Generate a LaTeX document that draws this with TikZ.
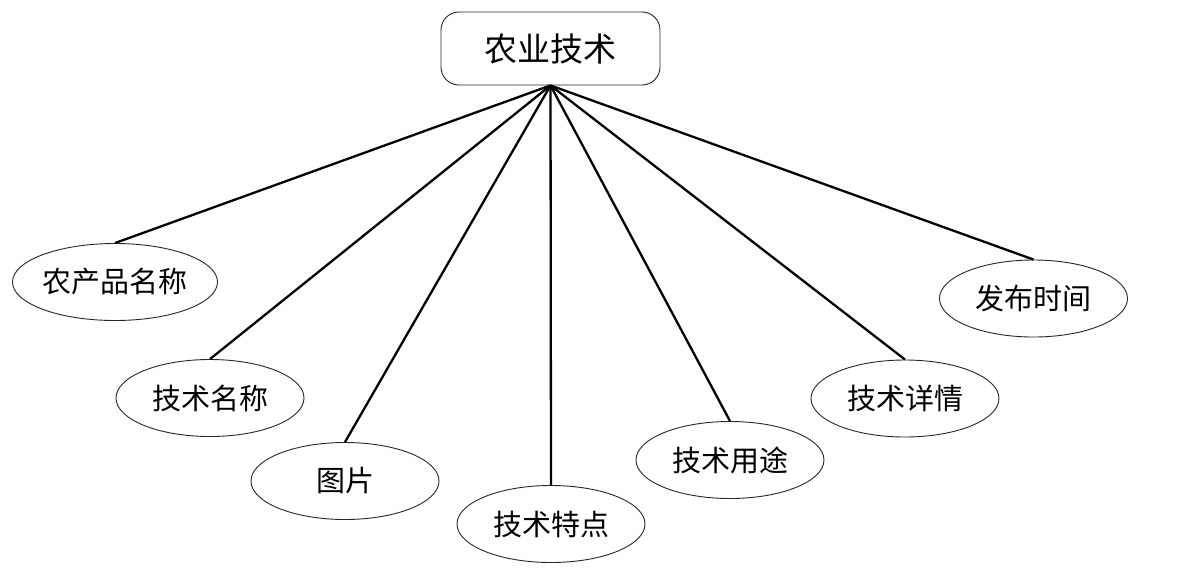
\documentclass[tikz,border=0pt]{standalone}
\usepackage{fontspec}
\newfontfamily\cjk{Noto Sans CJK SC}
\usetikzlibrary{shapes.geometric}
\begin{document}
\begin{tikzpicture}[x=1pt,y=-1pt,
  attr/.style={ellipse,draw=black!85,line width=0.9pt,minimum width=188pt,minimum height=77pt,inner sep=0pt,font=\cjk\fontsize{29}{29}\selectfont},
  ent/.style={rectangle,rounded corners=18pt,draw=black!85,line width=0.9pt,minimum width=219pt,minimum height=73pt,inner sep=0pt,font=\cjk\fontsize{33}{33}\selectfont},
  link/.style={line width=2.3pt,black}]
\useasboundingbox (0,0) rectangle (1189,579);
\node[ent] (top) at (550.5,48.5) {农业技术};
\node[attr,minimum width=204pt] (a1) at (115,282) {农产品名称};
\node[attr] (a2) at (210,398) {技术名称};
\node[attr] (a3) at (345,481) {图片};
\node[attr] (a4) at (551,524) {技术特点};
\node[attr] (a5) at (730,460) {技术用途};
\node[attr] (a6) at (905,398.5) {技术详情};
\node[attr] (a7) at (1033.5,298.5) {发布时间};
\foreach \n in {a1,a2,a3,a4,a5,a6,a7}
  \draw[link] (top.south) -- (\n.north);
\end{tikzpicture}
\end{document}
